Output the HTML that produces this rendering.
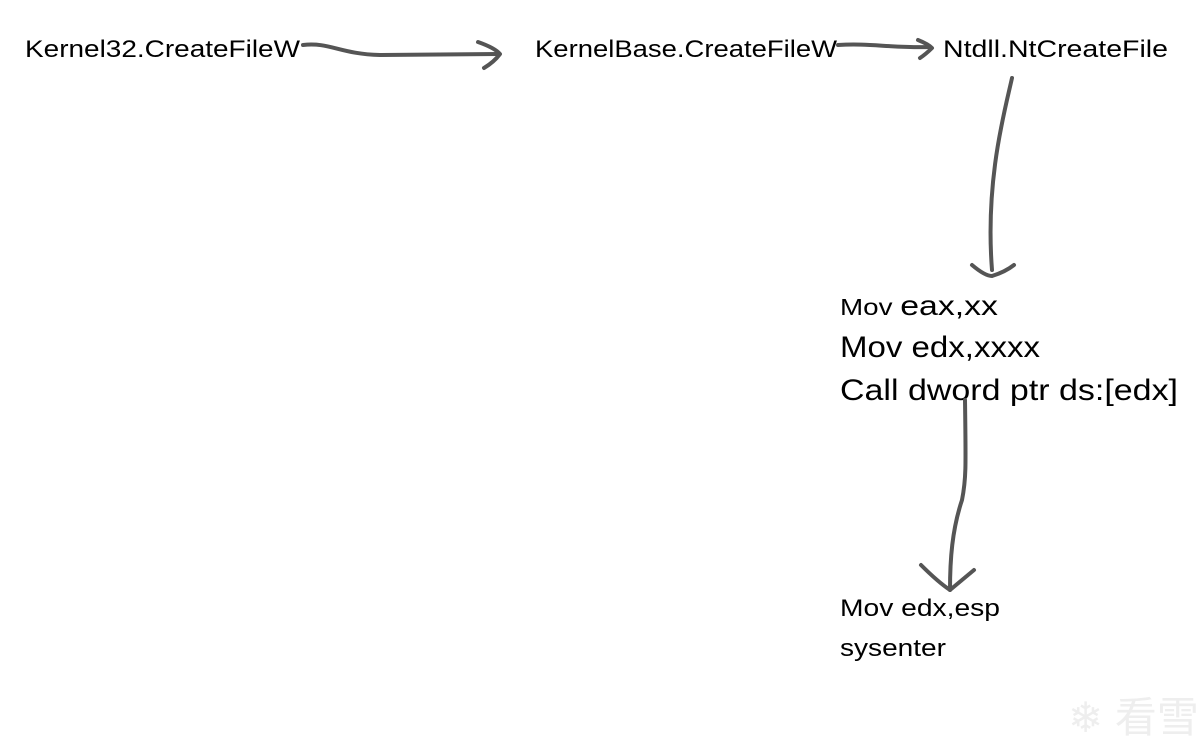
<!DOCTYPE html>
<html><head><style>html,body{margin:0;padding:0;background:#fff}</style></head>
<body>
<svg width="1200" height="741" xmlns="http://www.w3.org/2000/svg" font-family="'Liberation Sans', 'Noto Sans CJK SC', sans-serif" fill="#000">
<g font-size="24">
<text x="25" y="57" textLength="275" lengthAdjust="spacingAndGlyphs">Kernel32.CreateFileW</text>
<text x="535" y="57" textLength="302" lengthAdjust="spacingAndGlyphs">KernelBase.CreateFileW</text>
<text x="943" y="57" textLength="225" lengthAdjust="spacingAndGlyphs">Ntdll.NtCreateFile</text>
</g>
<text x="840" y="315" font-size="23" textLength="158" lengthAdjust="spacingAndGlyphs">Mov <tspan font-size="28">eax,xx</tspan></text>
<text x="840" y="357" font-size="30" textLength="200" lengthAdjust="spacingAndGlyphs">Mov edx,xxxx</text>
<text x="840" y="400" font-size="30" textLength="338" lengthAdjust="spacingAndGlyphs">Call dword ptr ds:[edx]</text>
<text x="840" y="616" font-size="24" textLength="160" lengthAdjust="spacingAndGlyphs">Mov edx,esp</text>
<text x="840" y="656" font-size="24" textLength="106" lengthAdjust="spacingAndGlyphs">sysenter</text>
<g fill="none" stroke="#555" stroke-width="4" stroke-linecap="round" stroke-linejoin="round">
<path d="M303 45 C330 42 340 54 380 55 L498 54"/>
<path d="M478 42 Q495 48 500 54 Q494 62 484 68"/>
<path d="M838 45 C870 43 890 48 930 47"/>
<path d="M918 40 Q928 44 932 48 Q926 54 920 58"/>
<path d="M1012 78 C1005 110 985 180 992 270"/>
<path d="M972 265 Q985 276 992 276 Q1005 272 1014 265"/>
<path d="M965 400 C966 470 966 480 962 500 C952 530 950 560 950 590"/>
<path d="M921 565 Q938 582 950 590 Q962 580 974 570"/>
</g>
<g fill="#eee" font-size="42"><text x="1068" y="732">❄ 看雪</text></g>
</svg>
</body></html>
